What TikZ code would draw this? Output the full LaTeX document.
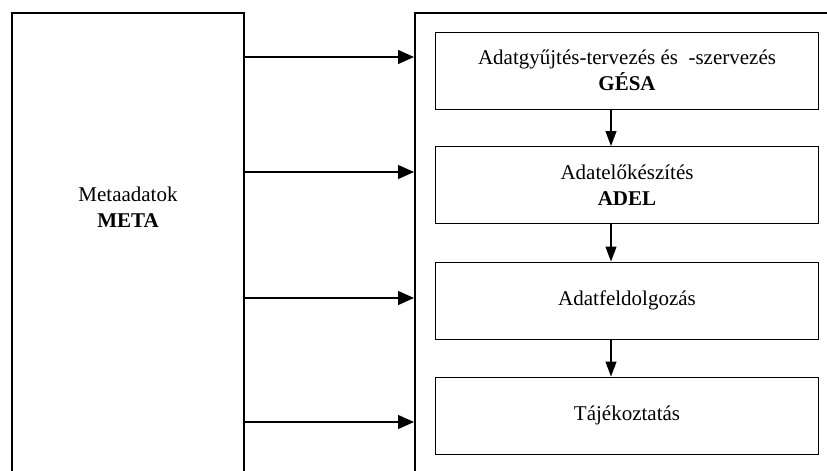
\documentclass[tikz,border=0pt]{standalone}
\usepackage{fontspec}
\setmainfont{Liberation Serif}
\usetikzlibrary{arrows.meta}
\begin{document}
\begin{tikzpicture}[x=1pt,y=-1pt,
  outer/.style={line width=2pt},
  label/.style={align=center, font=\fontsize{21}{26}\selectfont, inner sep=0pt},
  stepbox/.style={label, draw, line width=1pt, minimum width=383pt, minimum height=77pt},
  flow/.style={line width=1.3pt, -{Triangle[length=16pt,width=14pt]}, shorten >=1pt},
  down/.style={line width=1.3pt, -{Triangle[length=15pt,width=11pt]}}]
\useasboundingbox (0,0) rectangle (827,471);
% left column: Metaadatok (open at the bottom)
\draw[outer] (12,471) -- (12,13) -- (244,13) -- (244,471);
\node[label] (meta) at (128,207) {Metaadatok\\\textbf{META}};
% right frame (open at the bottom and the right)
\draw[outer] (415,471) -- (415,13) -- (827,13);
% process steps
\node[stepbox] (gesa) at (627,70.5) {Adatgyűjtés-tervezés és \ -szervezés\\\textbf{GÉSA}};
\node[stepbox] (adel) at (627,185) {Adatelőkészítés\\\textbf{ADEL}};
\node[stepbox] (feld) at (627,300.5) {Adatfeldolgozás};
\node[stepbox] (taj) at (627,415.5) {Tájékoztatás};
% anchors on the two frames
\coordinate (l1) at (244,57);  \coordinate (r1) at (415,57);
\coordinate (l2) at (244,172); \coordinate (r2) at (415,172);
\coordinate (l3) at (244,298); \coordinate (r3) at (415,298);
\coordinate (l4) at (244,422); \coordinate (r4) at (415,422);
\foreach \i in {1,...,4} \draw[flow] (l\i) -- (r\i);
% vertical flow between steps
\draw[down] (gesa.south -| 611,0) -- (adel.north -| 611,0);
\draw[down] (adel.south -| 611,0) -- (feld.north -| 611,0);
\draw[down] (feld.south -| 611,0) -- (taj.north -| 611,0);
\end{tikzpicture}
\end{document}
